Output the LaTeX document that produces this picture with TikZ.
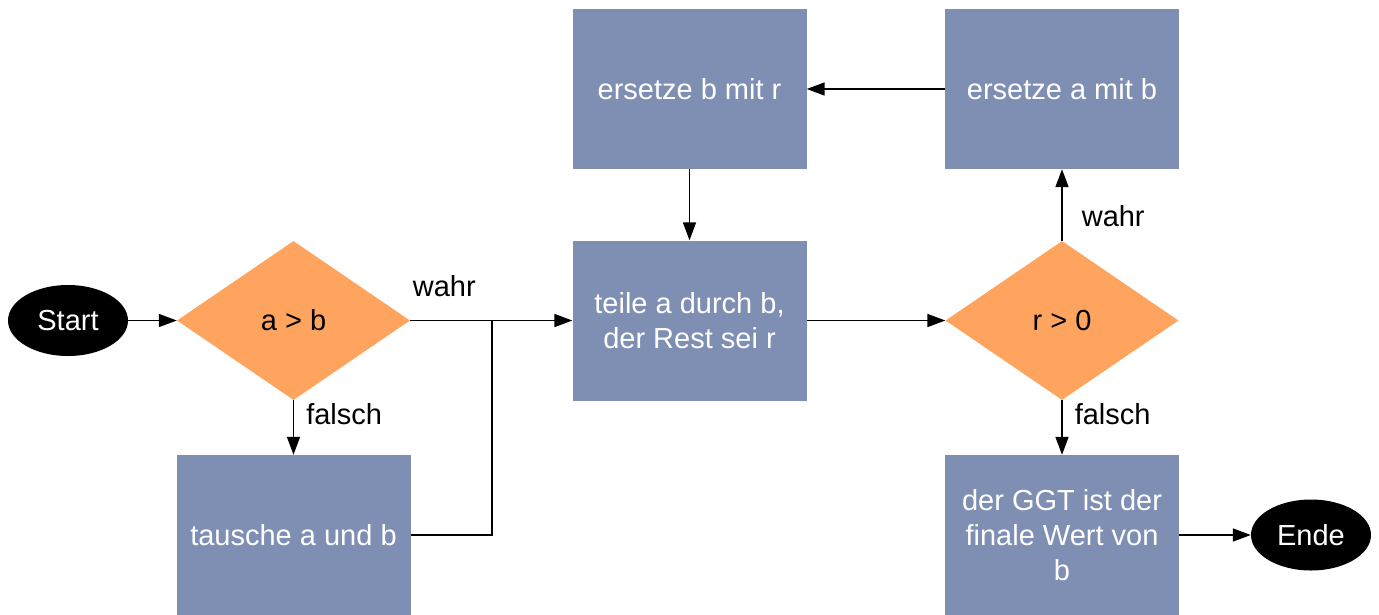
\documentclass[tikz,border=0pt]{standalone}
\usepackage{fontspec}
\setmainfont{Liberation Sans}
\usetikzlibrary{shapes.geometric,arrows.meta}
\definecolor{stepblue}{RGB}{127,143,179}
\definecolor{testorange}{RGB}{255,164,94}
\begin{document}
\begin{tikzpicture}[x=1pt, y=-1pt, font=\fontsize{29}{35}\selectfont]
\useasboundingbox (0,0) rectangle (1379,614);
\begin{scope}[every node/.style = {ellipse, fill=black, text=white, minimum width=120pt, minimum height=71pt, inner sep=0pt}]
\node (Start) at (68, 320.5) {Start};
\node (Ende) at (1311, 535) {Ende};
\end{scope}
\begin{scope}[every node/.style = {diamond, fill=testorange, minimum width=233pt, minimum height=159pt, inner sep=0pt, aspect=1.47}]
\node (AgtB) at (293.5, 320.5) {a > b};
\node (RgtO) at (1062, 320.5) {r > 0};
\end{scope}
\begin{scope}[every node/.style = {rectangle, fill=stepblue, text=white, minimum width=234pt, minimum height=160pt, inner sep=0pt, align=center}]
\node (Tausche) at (293.5, 535) {tausche a und b};
\node (Teile) at (689.5, 320.5) {teile a durch b,\\ der Rest sei r};
\node (ErsB) at (689.5, 89) {ersetze b mit r};
\node (ErsA) at (1062, 89) {ersetze a mit b};
\node (GGT) at (1062, 535) {der GGT ist der\\ finale Wert von\\ b};
\end{scope}
\coordinate (Knick) at (492, 320.5);
\begin{scope}[every edge/.style = {draw, line width=1.6pt, -{Triangle[length=18pt, width=13pt]}}, every node/.style = {inner sep=0pt}]
\path (Start) edge (AgtB);
\path (AgtB) edge node[pos=0.21, above=23pt] {wahr} (Teile);
\path (AgtB) edge node[pos=0.25, right=12pt] {falsch} (Tausche);
\path (Teile) edge (RgtO);
\path (RgtO) edge node[pos=0.35, right=19pt] {wahr} (ErsA);
\path (RgtO) edge node[pos=0.25, right=12pt] {falsch} (GGT);
\path (ErsA) edge (ErsB);
\path (ErsB) edge (Teile);
\path (GGT) edge (Ende);
\end{scope}
\draw[line width=1.6pt] (Tausche.east) -| (Knick);
\end{tikzpicture}
\end{document}
